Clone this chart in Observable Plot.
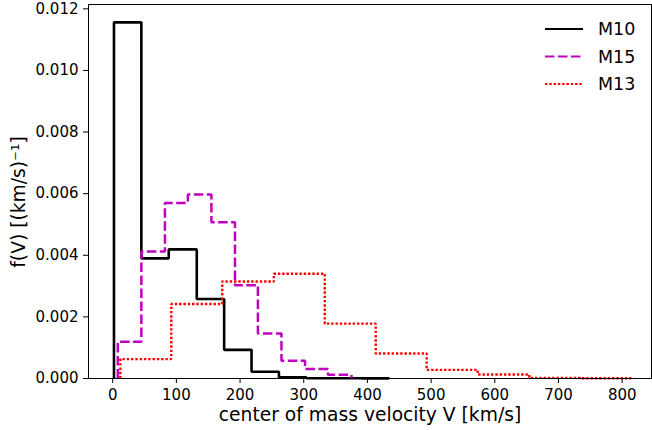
<!DOCTYPE html>
<html>
<head>
<meta charset="utf-8">
<script src="https://cdn.jsdelivr.net/npm/d3@7"></script>
<script src="https://cdn.jsdelivr.net/npm/@observablehq/plot@0.6"></script>
<style>
  html, body { margin: 0; padding: 0; background: white; }
</style>
</head>
<body>
<div id="chart"></div>
<script>
// ---- Data ----
const seriesNames = ["M10", "M15", "M13"];

const m10Edges  = [2, 45, 88, 132, 175, 218, 261, 304, 348, 391, 434];
const m10Values = [0.01156, 0.0039, 0.00419, 0.00258, 0.00093, 0.00022, 0.00004, 0.00001, 0.00001, 0.000005];

const m15Edges  = [8, 45, 82, 118, 155, 192, 228, 265, 302, 338, 375];
const m15Values = [0.00119, 0.00412, 0.0057, 0.00597, 0.00507, 0.00303, 0.00146, 0.00058, 0.00031, 0.00012];

const m13Edges  = [12, 92, 172, 253, 333, 413, 493, 573, 654, 734, 814];
const m13Values = [0.00063, 0.00242, 0.00315, 0.0034, 0.00178, 0.00081, 0.00028, 0.00013, 0.00002, 0.00001];

const xTicks = [0, 100, 200, 300, 400, 500, 600, 700, 800];
const yTicks = [0, 0.002, 0.004, 0.006, 0.008, 0.010, 0.012];

const xLabel = "center of mass velocity V [km/s]";
const yLabel = "f(V) [(km/s)\u207B\u00B9]";

// ---- Styling ----
const colors = ["black", "#bf00bf", "#ff0000"];
const dashes = [null, "9.5,3.5", "2.4,1.9"];
const widths = [2.6, 2.5, 2.4];

// Build histogram outline (matplotlib histtype="step")
function stepOutline(edges, values, name) {
  const pts = [{x: edges[0], y: 0, series: name}];
  for (let i = 0; i < values.length; i++) {
    pts.push({x: edges[i], y: values[i], series: name});
    pts.push({x: edges[i + 1], y: values[i], series: name});
  }
  pts.push({x: edges[edges.length - 1], y: 0, series: name});
  return pts;
}

const outlines = [
  stepOutline(m10Edges, m10Values, seriesNames[0]),
  stepOutline(m15Edges, m15Values, seriesNames[1]),
  stepOutline(m13Edges, m13Values, seriesNames[2])
];

const plot = Plot.plot({
  width: 652,
  height: 430,
  marginLeft: 88,
  marginRight: 1,
  marginTop: 4,
  marginBottom: 52,
  x: {domain: [-38, 846]},
  y: {domain: [0, 0.01214]},
  style: {fontFamily: "DejaVu Sans", fontSize: "15px", color: "black", background: "white", overflow: "visible"},
  marks: [
    Plot.axisX({ticks: xTicks, tickSize: 5, tickPadding: 5.5, label: null, tickFormat: d3.format("d")}),
    Plot.axisY({ticks: yTicks, tickSize: 5, tickPadding: 5, label: null, tickFormat: d3.format(".3f")}),
    ...outlines.map((pts, i) => Plot.line(pts, {
      x: "x", y: "y",
      stroke: colors[i],
      strokeWidth: widths[i],
      strokeDasharray: dashes[i],
      strokeLinejoin: "miter",
      strokeLinecap: "butt"
    })),
    Plot.frame({stroke: "black", strokeWidth: 1}),
    Plot.text([xLabel], {frameAnchor: "bottom", textAnchor: "middle", lineAnchor: "middle", dy: 37, fontSize: 18.7, text: d => d}),
    Plot.text([yLabel], {frameAnchor: "left", textAnchor: "middle", lineAnchor: "middle", dx: -69, dy: 10.5, rotate: -90, fontSize: 18.7, text: d => d})
  ]
});

document.getElementById("chart").appendChild(plot);

// ---- Legend (top right, no frame) ----
const svg = d3.select(plot);
const lg = svg.append("g")
  .attr("font-family", "DejaVu Sans")
  .attr("font-size", 17.5)
  .attr("text-anchor", "start");
seriesNames.forEach((name, i) => {
  const y = 29 + i * 27.5;
  lg.append("line")
    .attr("x1", 545).attr("x2", 583).attr("y1", y).attr("y2", y)
    .attr("stroke", colors[i]).attr("stroke-width", widths[i] * 0.85)
    .attr("stroke-dasharray", dashes[i]);
  lg.append("text")
    .attr("x", 598).attr("y", y).attr("dy", "0.35em")
    .attr("fill", "black")
    .text(name);
});
</script>
</body>
</html>
